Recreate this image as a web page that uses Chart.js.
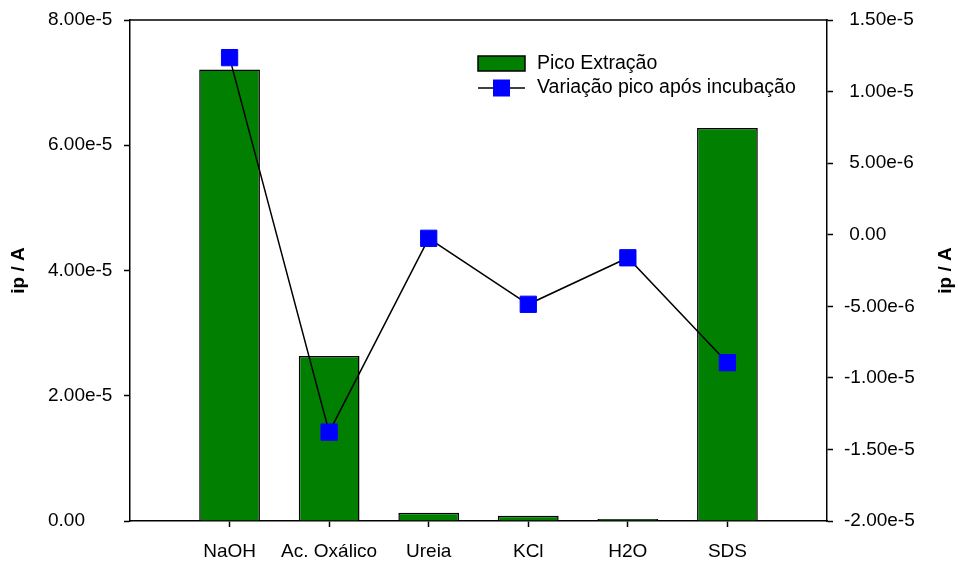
<!DOCTYPE html>
<html>
<head>
<meta charset="utf-8">
<script src="https://cdn.jsdelivr.net/npm/chart.js@4/dist/chart.umd.min.js"></script>
<style>
  html, body { margin: 0; padding: 0; background: #ffffff; }
  #wrap { width: 958px; height: 563px; }
</style>
</head>
<body>
<div id="wrap"><canvas id="chart" width="958" height="563"></canvas></div>
<script>
// Extraction solutions on the x axis
const categories = ['NaOH', 'Ac. Oxálico', 'Ureia', 'KCl', 'H2O', 'SDS'];

// Peak current of each extraction (left axis, A)
const picoExtracao = [7.21e-5, 2.635e-5, 1.33e-6, 0.85e-6, 0.32e-6, 6.275e-5];

// Change of the peak after incubation (right axis, A)
const variacaoPico = [1.237e-5, -1.379e-5, -2.5e-7, -4.86e-6, -1.61e-6, -8.94e-6];

// Axis ticks
const leftTicks = [0, 2e-5, 4e-5, 6e-5, 8e-5];
const rightTicks = [-2e-5, -1.5e-5, -1e-5, -5e-6, 0, 5e-6, 1e-5, 1.5e-5];

const seriesNames = ['Pico Extração', 'Variação pico após incubação'];
const axisTitle = 'ip / A';

const GREEN = '#007f00';
const BLUE = '#0000ff';
const FONT = '"Liberation Sans", Arial, sans-serif';

// One empty slot on each side of the categories
const labels = [''].concat(categories, ['']);
const padSeries = arr => [null].concat(arr, [null]);

function fmt(v) {
  if (Math.abs(v) < 1e-12) return '0.00';
  return v.toExponential(2);
}

// Fixed box sizes so the plot frame sits where it should
function fixWidth(w) {
  return scale => {
    scale.width = w;
    scale.paddingTop = 0;
    scale.paddingBottom = 0;
  };
}

const frameAndLegend = {
  id: 'frameAndLegend',
  afterDraw(chart) {
    const ctx = chart.ctx;
    const a = chart.chartArea;
    ctx.save();
    // top frame line
    ctx.strokeStyle = '#000';
    ctx.lineWidth = 1.5;
    ctx.beginPath();
    ctx.moveTo(a.left - 0.75, a.top);
    ctx.lineTo(a.right + 0.75, a.top);
    ctx.stroke();

    // axis titles
    ctx.fillStyle = '#000';
    ctx.font = 'bold 19px ' + FONT;
    ctx.textAlign = 'center';
    ctx.textBaseline = 'middle';
    const midY = (a.top + a.bottom) / 2;
    [19, 946].forEach(x => {
      ctx.save();
      ctx.translate(x, midY);
      ctx.rotate(-Math.PI / 2);
      ctx.fillText(axisTitle, 0, 0);
      ctx.restore();
    });

    // legend
    const lx = 478, lw = 47, tx = 537;
    const y1 = 63.5, y2 = 88;
    ctx.fillStyle = GREEN;
    ctx.fillRect(lx, y1 - 7.5, lw, 15);
    ctx.strokeStyle = '#000';
    ctx.lineWidth = 1.5;
    ctx.strokeRect(lx, y1 - 7.5, lw, 15);

    ctx.beginPath();
    ctx.moveTo(lx, y2);
    ctx.lineTo(lx + lw, y2);
    ctx.stroke();
    ctx.fillStyle = BLUE;
    ctx.fillRect(lx + lw / 2 - 8.5, y2 - 8.5, 17, 17);

    ctx.fillStyle = '#000';
    ctx.font = '19.5px ' + FONT;
    ctx.textAlign = 'left';
    ctx.textBaseline = 'middle';
    ctx.fillText(seriesNames[0], tx, y1);
    ctx.fillText(seriesNames[1], tx, y2);
    ctx.restore();
  }
};

new Chart(document.getElementById('chart'), {
  data: {
    labels: labels,
    datasets: [
      {
        type: 'line',
        label: seriesNames[1],
        data: padSeries(variacaoPico),
        yAxisID: 'y1',
        order: 0,
        borderColor: '#000',
        borderWidth: 1.5,
        pointStyle: 'rect',
        pointRadius: 11.5,
        pointBackgroundColor: BLUE,
        pointBorderColor: BLUE,
        pointBorderWidth: 1,
        spanGaps: true,
        tension: 0
      },
      {
        type: 'bar',
        label: seriesNames[0],
        data: padSeries(picoExtracao),
        yAxisID: 'y',
        order: 1,
        backgroundColor: GREEN,
        borderColor: '#000',
        borderWidth: 1.5,
        borderSkipped: 'start',
        categoryPercentage: 1,
        barPercentage: 0.61
      }
    ]
  },
  options: {
    responsive: false,
    animation: false,
    devicePixelRatio: 1,
    layout: { padding: { top: 20, left: 48, right: 0, bottom: 0 } },
    plugins: {
      legend: { display: false },
      tooltip: { enabled: false }
    },
    scales: {
      x: {
        type: 'category',
        offset: false,
        afterFit(scale) {
          scale.height = 42;
          scale.paddingLeft = 0;
          scale.paddingRight = 0;
        },
        border: { display: true, color: '#000', width: 1.5 },
        grid: {
          offset: false,
          drawOnChartArea: false,
          drawTicks: true,
          tickLength: 6,
          tickWidth: 1.5,
          tickColor: c => (c.index === 0 || c.index === labels.length - 1) ? 'rgba(0,0,0,0)' : '#000'
        },
        ticks: {
          autoSkip: false,
          maxRotation: 0,
          minRotation: 0,
          padding: 13,
          color: '#000',
          font: { family: FONT, size: 19 }
        }
      },
      y: {
        type: 'linear',
        position: 'left',
        min: 0,
        max: 8e-5,
        afterFit: fixWidth(82),
        afterBuildTicks(scale) { scale.ticks = leftTicks.map(v => ({ value: v })); },
        border: { display: true, color: '#000', width: 1.5 },
        grid: { drawOnChartArea: false, drawTicks: true, tickLength: 6, tickWidth: 1.5, tickColor: '#000' },
        ticks: {
          crossAlign: 'far',
          padding: 11,
          color: '#000',
          font: { family: FONT, size: 19 },
          callback: v => fmt(v)
        }
      },
      y1: {
        type: 'linear',
        position: 'right',
        min: -2e-5,
        max: 1.5e-5,
        afterFit: fixWidth(131),
        afterBuildTicks(scale) { scale.ticks = rightTicks.map(v => ({ value: v })); },
        border: { display: true, color: '#000', width: 1.5 },
        grid: { drawOnChartArea: false, drawTicks: true, tickLength: 6, tickWidth: 1.5, tickColor: '#000' },
        ticks: {
          crossAlign: 'near',
          padding: 11,
          color: '#000',
          font: { family: FONT, size: 19 },
          callback: v => (v < -1e-12 ? '' : ' ') + fmt(v)
        }
      }
    }
  },
  plugins: [frameAndLegend]
});
</script>
</body>
</html>
